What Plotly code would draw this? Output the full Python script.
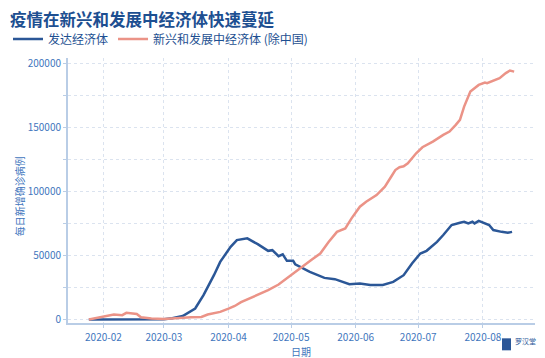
import plotly.graph_objects as go

title_text = "疫情在新兴和发展中经济体快速蔓延"
name_dev = "发达经济体"
name_emg = "新兴和发展中经济体 (除中国)"
y_title = "每日新增确诊病例"
x_title = "日期"

dev_dates = ["2020-01-25", "2020-02-15", "2020-03-01", "2020-03-05", "2020-03-10", "2020-03-16",
             "2020-03-20", "2020-03-25", "2020-03-28", "2020-04-02", "2020-04-05", "2020-04-10",
             "2020-04-15", "2020-04-20", "2020-04-22", "2020-04-25", "2020-04-27", "2020-04-29",
             "2020-05-02", "2020-05-03", "2020-05-10", "2020-05-17", "2020-05-22", "2020-05-29",
             "2020-06-03", "2020-06-08", "2020-06-14", "2020-06-19", "2020-06-24", "2020-06-28",
             "2020-07-02", "2020-07-05", "2020-07-10", "2020-07-13", "2020-07-17", "2020-07-21",
             "2020-07-23", "2020-07-25", "2020-07-27", "2020-07-28", "2020-07-30", "2020-08-04",
             "2020-08-06", "2020-08-10", "2020-08-13", "2020-08-15"]
dev_values = [0, 0, 300, 1000, 2800, 8600,
              19000, 34600, 45000, 56700, 62000, 63300,
              58800, 53600, 54100, 49400, 50800, 45800,
              45800, 43000, 37200, 32500, 31500, 27600,
              28100, 27000, 27000, 29400, 34600, 43700,
              51500, 53600, 60600, 65900, 73700, 75500,
              76300, 75000, 76300, 75000, 77000, 73700,
              69800, 68400, 67700, 68400]

emg_dates = ["2020-01-25", "2020-02-01", "2020-02-06", "2020-02-10", "2020-02-12", "2020-02-17",
             "2020-02-19", "2020-02-24", "2020-03-01", "2020-03-14", "2020-03-19", "2020-03-22",
             "2020-03-28", "2020-04-01", "2020-04-04", "2020-04-07", "2020-04-12", "2020-04-20",
             "2020-04-25", "2020-04-30", "2020-05-03", "2020-05-07", "2020-05-11", "2020-05-15",
             "2020-05-19", "2020-05-23", "2020-05-27", "2020-05-30", "2020-06-03", "2020-06-06",
             "2020-06-11", "2020-06-15", "2020-06-18", "2020-06-20", "2020-06-22", "2020-06-24",
             "2020-06-26", "2020-06-30", "2020-07-03", "2020-07-08", "2020-07-13", "2020-07-16",
             "2020-07-19", "2020-07-21", "2020-07-23", "2020-07-26", "2020-07-30", "2020-08-02",
             "2020-08-03", "2020-08-07", "2020-08-09", "2020-08-12", "2020-08-14", "2020-08-16"]
emg_values = [0, 2600, 3900, 3400, 5200, 4400,
              1800, 800, 500, 1800, 2000, 3900,
              6000, 8500, 10600, 13500, 17200, 22900,
              27300, 33300, 36400, 41900, 46900, 51500,
              60500, 68400, 71100, 78900, 88000, 91900,
              97100, 103600, 111400, 116600, 118800, 119500,
              121900, 129700, 134400, 138800, 144000, 146600,
              151800, 155700, 166100, 177800, 183000, 184800,
              184400, 187000, 188300, 192200, 194200, 193400]

x_tickvals = ["2020-02-01", "2020-03-01", "2020-04-01", "2020-05-01", "2020-06-01", "2020-07-01", "2020-08-01"]
x_ticktext = ["2020-02", "2020-03", "2020-04", "2020-05", "2020-06", "2020-07", "2020-08"]
y_tickvals = [0, 50000, 100000, 150000, 200000]
y_ticktext = ["0", "50000", "100000", "150000", "200000"]

FONT = "Noto Sans CJK SC, Noto Sans, sans-serif"
TXT = "#3f76bd"
DARK = "#1d4f91"
AXIS = "#b9cde6"
GRID = "#dbe3ef"

W, H = 545, 358
OFF = 8  # page body margin offset
L = 68 - OFF
R = W - (535 - OFF)
T = 58 - OFF
B = H - (322.7 - OFF)

fig = go.Figure()
fig.add_trace(go.Scatter(x=dev_dates, y=dev_values, mode="lines", name=name_dev,
                         line=dict(color="#2b5797", width=2.5)))
fig.add_trace(go.Scatter(x=emg_dates, y=emg_values, mode="lines", name=name_emg,
                         line=dict(color="#eb9387", width=2.5)))

fig.update_layout(
    width=W, height=H,
    margin=dict(l=L, r=R, t=T, b=B, autoexpand=False),
    paper_bgcolor="white", plot_bgcolor="white",
    font=dict(family=FONT, color=TXT, size=10),
    title=dict(text="<b>" + title_text + "</b>", x=2/W, xref="container", xanchor="left",
               y=1 - 12/H, yref="container", yanchor="middle",
               font=dict(size=16.5, color=DARK, family=FONT)),
    legend=dict(orientation="h", x=-21/W, xref="container", xanchor="left",
                y=1 - 31/H, yref="container", yanchor="middle",
                font=dict(size=12, color=DARK, family=FONT),
                itemwidth=30, tracegroupgap=0, bgcolor="rgba(0,0,0,0)"),
    showlegend=True,
)
fig.update_xaxes(
    range=["2020-01-15", "2020-08-26"],
    tickvals=x_tickvals, ticktext=x_ticktext,
    showline=True, linecolor=AXIS, linewidth=2,
    ticks="outside", tickcolor=AXIS, ticklen=3,
    ticklabelstandoff=1,
    showgrid=True, gridcolor=GRID, griddash="dot", gridwidth=1,
    tickfont=dict(size=10, color=TXT),
    zeroline=False, mirror=False, automargin=False,
)
fig.update_yaxes(
    range=[-2700, 204000],
    tickvals=y_tickvals, ticktext=y_ticktext,
    showline=True, linecolor=AXIS, linewidth=2,
    ticks="outside", tickcolor=AXIS, ticklen=3,
    showgrid=True, gridcolor=GRID, griddash="dot", gridwidth=1,
    minor=dict(dtick=25000, tick0=0, showgrid=True, gridcolor=GRID, griddash="dot",
               ticks="outside", ticklen=3, tickcolor=AXIS),
    tickfont=dict(size=10, color=TXT),
    zeroline=False, automargin=False,
)

pw, ph = W - L - R, H - T - B
def px(xp):
    return (xp - OFF - L) / pw
def py(yp):
    return (H - B - (yp - OFF)) / ph

fig.add_annotation(text=y_title, xref="paper", yref="paper", x=px(19), y=py(196),
                   xanchor="center", yanchor="middle", showarrow=False, textangle=-90,
                   font=dict(size=10, color=TXT, family=FONT))
fig.add_annotation(text=x_title, xref="paper", yref="paper", x=px(301), y=py(351.5),
                   xanchor="center", yanchor="middle", showarrow=False,
                   font=dict(size=10, color=TXT, family=FONT))
fig.add_shape(type="rect", xref="paper", yref="paper", x0=px(502), x1=px(511), y0=py(350), y1=py(338),
              fillcolor="#2b5797", line=dict(width=0))
fig.add_annotation(text="罗汉堂", xref="paper", yref="paper", x=px(513), y=py(341),
                   xanchor="left", yanchor="middle", showarrow=False,
                   font=dict(size=7, color="#2b5797", family=FONT))

fig.write_html("out.html")
